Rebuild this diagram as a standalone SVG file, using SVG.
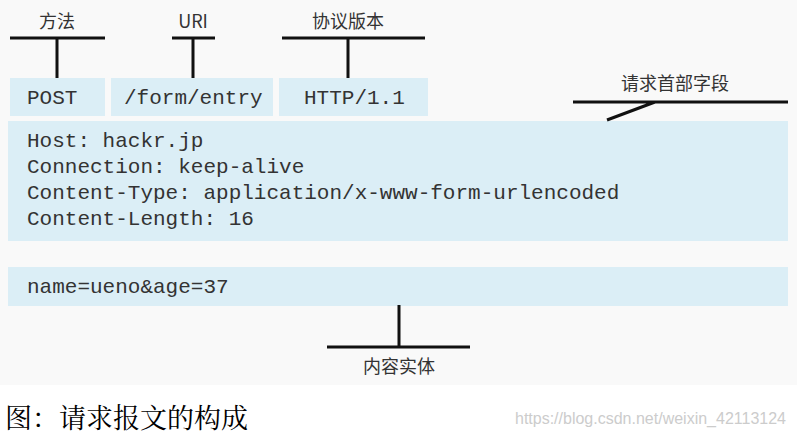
<svg xmlns="http://www.w3.org/2000/svg" width="797" height="437" viewBox="0 0 797 437">
<style>
.box{fill:#dbeef6}
.mono{font-family:"Liberation Mono","Courier New",monospace;font-size:21px;fill:#333}
.lab{font-family:"Noto Sans CJK SC",sans-serif;font-size:18px;fill:#333;text-anchor:middle}
.ln{stroke:#111;stroke-width:3;fill:none}
</style>
<rect width="797" height="437" fill="#fff"/>
<rect width="797" height="385" fill="#f9f9f9"/>
<g id="post"><rect class="box" x="10" y="78" width="95" height="38"/><text class="mono" x="27" y="104">POST</text></g>
<g id="uri"><rect class="box" x="111" y="78" width="162" height="38"/><text class="mono" x="124" y="104">/form/entry</text></g>
<g id="ver"><rect class="box" x="279" y="78" width="149" height="38"/><text class="mono" x="304" y="104">HTTP/1.1</text></g>
<g id="headers"><rect class="box" x="8" y="121" width="780" height="120"/>
<text class="mono" x="27" y="147">Host: hackr.jp</text>
<text class="mono" x="27" y="173">Connection: keep-alive</text>
<text class="mono" x="27" y="199">Content-Type: application/x-www-form-urlencoded</text>
<text class="mono" x="27" y="225">Content-Length: 16</text></g>
<g id="body"><rect class="box" x="8" y="267" width="780" height="39"/><text class="mono" x="27" y="293">name=ueno&amp;age=37</text></g>
<g id="labels">
<text class="lab" x="57" y="28">方法</text>
<text class="lab" x="193" y="28">URI</text>
<text class="lab" x="348" y="28">协议版本</text>
<text class="lab" x="675" y="90">请求首部字段</text>
<text class="lab" x="399" y="373">内容实体</text>
</g>
<g id="connectors">
<path class="ln" d="M10 38H105M57 38V78"/>
<path class="ln" d="M172 38H215M193 38V78"/>
<path class="ln" d="M282 38H425M348 38V78"/>
<path class="ln" d="M573 102H788M655 102L607 120"/>
<path class="ln" d="M399 305V347M327 347H470"/>
</g>
<text x="5" y="428" font-family="Noto Serif CJK SC,Noto Sans CJK SC,serif" font-size="27" fill="#000">图：请求报文的构成</text>
<text x="786" y="424" text-anchor="end" font-family="Liberation Sans,sans-serif" font-size="16" fill="#ccc">https://blog.csdn.net/weixin_42113124</text>
</svg>
